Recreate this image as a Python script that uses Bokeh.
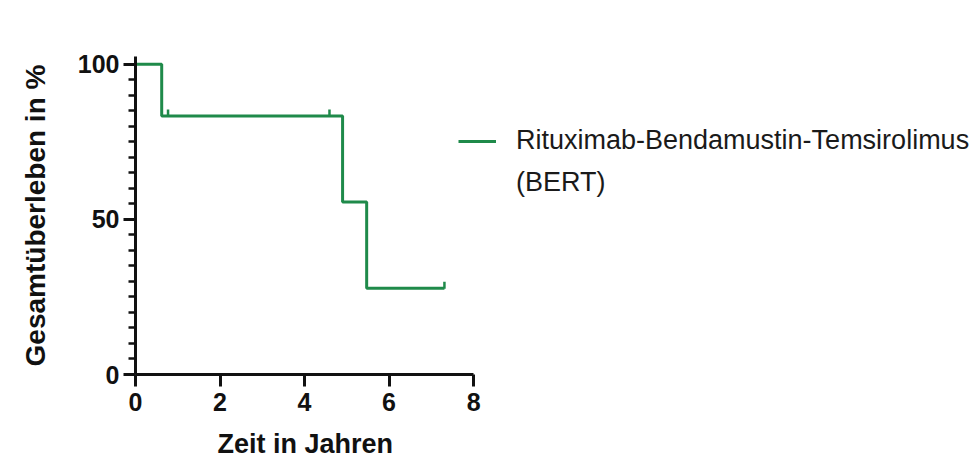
import math
from bokeh.plotting import figure
from bokeh.models import (ColumnDataSource, FixedTicker, Legend, LegendItem, Range1d, Title)
from bokeh.embed import file_html
from bokeh.resources import INLINE

# ---- data ----
time_years = [0.0, 0.62, 4.90, 5.47, 7.31]
survival_pct = [100.0, 83.3, 55.6, 27.8, 27.8]
censor_time = [0.77, 4.59, 7.31]
censor_surv = [83.3, 83.3, 27.8]

x_ticks = [0, 2, 4, 6, 8]
y_ticks = [0, 50, 100]
y_minor_ticks = [5, 10, 15, 20, 25, 30, 35, 40, 45, 55, 60, 65, 70, 75, 80, 85, 90, 95]

series_label = "Rituximab-Bendamustin-Temsirolimus"
series_label2 = "(BERT)"
x_title = "Zeit in Jahren"
y_title = "Gesamtüberleben in %"

GREEN = "#1f8a4a"
INK = "#111111"
FONT = "Liberation Sans"

# frame spans to the right edge so the legend (inside the frame) is not clipped;
# the x axis itself is bounded to 0..8
p = figure(width=976, height=473, output_backend="svg", toolbar_location=None,
           x_range=Range1d(0, 19.9), y_range=Range1d(0, 102.5),
           min_border_left=135, min_border_right=0,
           min_border_top=56, min_border_bottom=99)
p.outline_line_color = None
p.xgrid.visible = False
p.ygrid.visible = False
p.background_fill_color = "white"
p.border_fill_color = "white"

# step curve
src = ColumnDataSource(dict(t=time_years, s=survival_pct))
step_r = p.step("t", "s", source=src, mode="after", line_color=GREEN, line_width=3)

# censor marks: short vertical ticks sitting on the curve
tick_lift = 1.0  # data units, so the tick rises above the line
csrc = ColumnDataSource(dict(t=censor_time, s=[v + tick_lift for v in censor_surv]))
cens_r = p.scatter("t", "s", source=csrc, marker="dash", angle=math.pi / 2, size=7,
                   line_color=GREEN, line_width=2.5)

# invisible renderer for the second legend line
blank_r = p.line(x=[], y=[], line_alpha=0)

# axes
for ax in (p.xaxis[0], p.yaxis[0]):
    ax.axis_line_width = 3
    ax.axis_line_color = INK
    ax.major_tick_line_width = 3
    ax.major_tick_line_color = INK
    ax.minor_tick_line_width = 2.5
    ax.minor_tick_line_color = INK
    ax.major_tick_in = 0
    ax.minor_tick_in = 0
    ax.major_tick_out = 12
    ax.minor_tick_out = 7
    ax.major_label_text_font = FONT
    ax.major_label_text_font_style = "bold"
    ax.major_label_text_font_size = "25px"
    ax.major_label_text_color = INK
    ax.axis_label_text_font = FONT
    ax.axis_label_text_font_style = "bold"
    ax.axis_label_text_color = INK

p.xaxis[0].bounds = (0, 8)
p.yaxis[0].axis_label_text_font_size = "28px"
p.xaxis[0].ticker = FixedTicker(ticks=x_ticks, minor_ticks=[])
p.yaxis[0].ticker = FixedTicker(ticks=y_ticks, minor_ticks=y_minor_ticks)
p.yaxis[0].axis_label = y_title
p.xaxis[0].major_label_standoff = 6
p.yaxis[0].major_label_standoff = 4
p.yaxis[0].axis_label_standoff = 24

# x-axis title, placed under the 0..8 axis span (the frame is wider than the axis)
xt = Title(text=x_title, align="left", offset=82, standoff=26,
           text_font=FONT, text_font_style="bold", text_font_size="27px",
           text_color=INK)
p.add_layout(xt, "below")

legend = Legend(items=[LegendItem(label=series_label, renderers=[step_r, cens_r]),
                       LegendItem(label=series_label2, renderers=[blank_r])],
                location=(323, 176), padding=0, margin=0, spacing=11,
                glyph_width=38, glyph_height=30, label_height=30,
                label_standoff=20,
                border_line_alpha=0, background_fill_alpha=0,
                label_text_font=FONT, label_text_font_size="27px",
                label_text_color="#1a1a1a")
p.add_layout(legend, "center")

open("out.html", "w").write(file_html(p, INLINE))
